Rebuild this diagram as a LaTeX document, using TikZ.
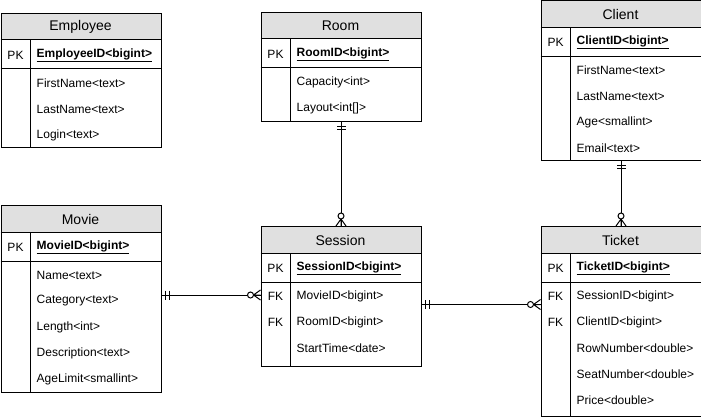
\documentclass[tikz,border=0pt]{standalone}
\usepackage{fontspec}
\setmainfont{Liberation Sans}
\usetikzlibrary{calc}

\definecolor{headgray}{HTML}{E0E0E0}

\tikzset{
  tablebox/.style={draw, line width=1pt, inner sep=0pt, minimum width=160pt, anchor=north west},
  title/.style={font=\fontsize{14}{16}\selectfont, inner sep=0pt},
  field/.style={font=\fontsize{12}{14}\selectfont, inner sep=0pt, anchor=west},
  keyfield/.style={font=\fontsize{12}{14}\selectfont\bfseries, inner sep=0pt, anchor=west},
  keylabel/.style={font=\fontsize{12}{14}\selectfont, inner sep=0pt},
  rel/.style={line width=1pt},
}

% \ertable{name}{left}{top}{height}{title}{primary key}{key/label list}
\newcommand{\ertable}[7]{%
  \fill[headgray] (#2,#3) rectangle ++(160,27);
  \node[tablebox, minimum height=#4pt] (#1) at (#2,#3) {};
  \draw[line width=1pt] (#2,#3+27) -- ++(160,0);
  \draw[line width=1pt] (#2,#3+56) -- ++(160,0);
  \draw[line width=1pt] (#2+30,#3+27) -- (#2+30,#3+#4);
  \node[title] (#1-title) at (#2+80,#3+14) {#5};
  \node[keylabel] (#1-pkl) at (#2+15,#3+42) {PK};
  \node[keyfield] (#1-pk) at (#2+36,#3+42) {\underline{#6}};
  \foreach \k/\f [count=\i] in {#7} {
    \node[keylabel] (#1-k\i) at (#2+15,#3+44+26*\i) {\k};
    \node[field] (#1-r\i) at (#2+36,#3+44+26*\i) {\f};
  }
}

% one-and-only-one end: two bars across the line near the table edge
\newcommand{\mandone}[2]{% #1 point on edge, #2 direction angle pointing away from table
  \begin{scope}[shift={(#1)}, rotate=#2]
    \draw[rel] (4,-4.5) -- (4,4.5);
    \draw[rel] (7.5,-4.5) -- (7.5,4.5);
  \end{scope}}
% zero-or-many end: circle and crow's foot
\newcommand{\zeromany}[2]{%
  \begin{scope}[shift={(#1)}, rotate=#2]
    \draw[rel] (7,0) -- (0,-5) (7,0) -- (0,5) (7,0) -- (0,0);
    \draw[rel, fill=white] (10,0) circle (3);
  \end{scope}}

\begin{document}
\begin{tikzpicture}[x=1pt, y=-1pt]
  \useasboundingbox (0,0) rectangle (701,420);

  \ertable{employee}{0.5}{13}{134}{Employee}{EmployeeID<bigint>}%
    {/FirstName<text>, /LastName<text>, /Login<text>}
  \ertable{room}{260.5}{12}{109}{Room}{RoomID<bigint>}%
    {/Capacity<int>, /Layout<int[]>}
  \ertable{client}{540.5}{0.5}{159.5}{Client}{ClientID<bigint>}%
    {/FirstName<text>, /LastName<text>, /Age<smallint>, /Email<text>}
  \ertable{movie}{0.5}{205}{187}{Movie}{MovieID<bigint>}%
    {/Name<text>, /Category<text>, /Length<int>, /Description<text>, /AgeLimit<smallint>}
  \ertable{session}{260.5}{226}{140}{Session}{SessionID<bigint>}%
    {FK/MovieID<bigint>, FK/RoomID<bigint>, /StartTime<date>}
  \ertable{ticket}{540.5}{226}{190}{Ticket}{TicketID<bigint>}%
    {FK/SessionID<bigint>, FK/ClientID<bigint>, /RowNumber<double>, /SeatNumber<double>, /Price<double>}

  % Movie -- Session
  \coordinate (ms-a) at ([yshift=1pt]movie.east |- session-r1);
  \coordinate (ms-b) at ([yshift=1pt]session.west |- session-r1);
  \draw[rel] (ms-a) -- (ms-b);
  \mandone{ms-a}{0}
  \zeromany{ms-b}{180}

  % Room -- Session
  \draw[rel] (room.south) -- (session.north);
  \mandone{room.south}{-90}
  \zeromany{session.north}{90}

  % Session -- Ticket
  \coordinate (st-a) at ([yshift=-8pt]session.east);
  \coordinate (st-b) at (ticket.west |- st-a);
  \draw[rel] (st-a) -- (st-b);
  \mandone{st-a}{0}
  \zeromany{st-b}{180}

  % Client -- Ticket
  \draw[rel] (client.south) -- (ticket.north);
  \mandone{client.south}{-90}
  \zeromany{ticket.north}{90}
\end{tikzpicture}
\end{document}
